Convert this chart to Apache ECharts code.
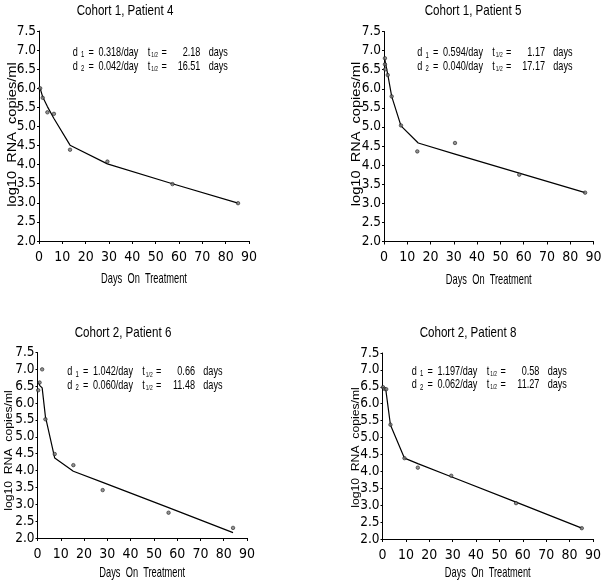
<!DOCTYPE html>
<html><head><meta charset="utf-8">
<script src="https://cdn.jsdelivr.net/npm/echarts@6/dist/echarts.min.js"></script>
<style>html,body{margin:0;padding:0;background:#fff}#c{width:608px;height:584px}</style>
</head><body><div id="c"></div><script>
// ---- data ----
const titles = ['Cohort 1, Patient 4', 'Cohort 1, Patient 5', 'Cohort 2, Patient 6', 'Cohort 2, Patient 8'];
const d1Vals = ['0.318', '0.594', '1.042', '1.197'];
const d2Vals = ['0.042', '0.040', '0.060', '0.062'];
const t1Vals = ['2.18', '1.17', '0.66', '0.58'];
const t2Vals = ['16.51', '17.17', '11.48', '11.27'];
const xTickLabels = ['0', '10', '20', '30', '40', '50', '60', '70', '80', '90'];
const yTickLabels = ['2.0', '2.5', '3.0', '3.5', '4.0', '4.5', '5.0', '5.5', '6.0', '6.5', '7.0', '7.5'];

const days4 = [0.5, 1.6, 3.6, 6.4, 13.3, 29.3, 57.2, 85.3];
const rna4 = [6.00, 5.75, 5.37, 5.33, 4.39, 4.08, 3.49, 2.99];
const fitDays4 = [0.4, 1.6, 3.6, 6.4, 13.3, 29.3, 57.2, 85.3];
const fit4 = [6.02, 5.77, 5.52, 5.21, 4.51, 4.02, 3.50, 2.99];

const days5 = [0.4, 0.4, 0.5, 1.6, 3.3, 7.3, 14.3, 30.5, 58.1, 86.4];
const rna5 = [6.80, 6.64, 6.51, 6.36, 5.80, 5.04, 4.36, 4.58, 3.75, 3.28];
const fitDays5 = [0.3, 1.6, 3.3, 7.3, 14.7, 30.5, 58.1, 86.4];
const fit5 = [6.78, 6.38, 5.80, 5.03, 4.58, 4.29, 3.79, 3.28];

const days6 = [0.3, 0.9, 2.0, 3.4, 7.4, 15.4, 28.0, 56.3, 84.0];
const rna6 = [6.38, 6.61, 7.00, 5.52, 4.49, 4.16, 3.42, 2.75, 2.30];
const fitDays6 = [0.3, 1.0, 2.0, 3.4, 7.4, 15.4, 28.0, 56.3, 84.0];
const fit6 = [6.62, 6.52, 6.45, 5.60, 4.37, 3.98, 3.65, 2.90, 2.16];

const days8 = [0.2, 0.8, 1.6, 3.4, 9.4, 15.1, 29.4, 57.1, 85.2];
const rna8 = [6.49, 6.44, 6.43, 5.38, 4.39, 4.11, 3.87, 3.06, 2.32];
const fitDays8 = [0.2, 1.4, 3.4, 9.4, 15.1, 29.4, 57.1, 85.2];
const fit8 = [6.48, 6.42, 5.37, 4.39, 4.23, 3.84, 3.09, 2.32];

// ---- layout ----
const COND = "'DejaVu Sans Condensed', 'Liberation Sans', sans-serif";
const REG = "'Liberation Sans', Arial, sans-serif";
const panels = [
  {days: days4, rna: rna4, fd: fitDays4, fv: fit4, grid: {left: 39, top: 31, width: 210, height: 210},
   titleX: 125, titleY: 11, dx: 72.7, ly: [52, 66], yNameX: 12, yNameY: 134.5, yNameSize: 14.6, xNameY: 279},
  {days: days5, rna: rna5, fd: fitDays5, fv: fit5, grid: {left: 384, top: 31.5, width: 209.5, height: 210},
   titleX: 473, titleY: 11, dx: 417.3, ly: [52.3, 66], yNameX: 356, yNameY: 134, yNameSize: 14.6, xNameY: 280},
  {days: days6, rna: rna6, fd: fitDays6, fv: fit6, grid: {left: 37.5, top: 352.5, width: 209.5, height: 185.5},
   titleX: 123, titleY: 333, dx: 67.3, ly: [371.7, 385], yNameX: 9, yNameY: 450.5, yNameSize: 12.2, xNameY: 573},
  {days: days8, rna: rna8, fd: fitDays8, fv: fit8, grid: {left: 382.5, top: 353, width: 210.5, height: 186},
   titleX: 468, titleY: 333, dx: 411.7, ly: [371, 384.3], yNameX: 355.5, yNameY: 447.5, yNameSize: 12.2, xNameY: 573}
];

function txt(x, y, text, size, opts) {
  opts = opts || {};
  return {
    type: 'text', x: x, y: y, rotation: opts.rotation || 0, silent: true,
    scaleX: opts.sx || 1, scaleY: opts.sy || 1,
    style: {text: text, fontSize: size, fontFamily: opts.family || REG, fill: '#000',
            align: opts.align || 'left', verticalAlign: 'middle'}
  };
}

const grids = [], xAxes = [], yAxes = [], series = [], graphics = [];
panels.forEach(function (p, i) {
  grids.push(Object.assign({containLabel: false}, p.grid));
  xAxes.push({
    type: 'value', gridIndex: i, min: 0, max: 90, interval: 10,
    axisLine: {show: true, onZero: false, lineStyle: {color: '#000', width: 1}},
    axisTick: {show: true, length: 3, lineStyle: {color: '#000'}},
    splitLine: {show: false},
    axisLabel: {color: '#000', fontSize: 14, fontFamily: COND, margin: 9,
                formatter: function (v) { return xTickLabels[Math.round(v / 10)]; }}
  });
  yAxes.push({
    type: 'value', gridIndex: i, min: 2, max: 7.5, interval: 0.5,
    axisLine: {show: true, onZero: false, lineStyle: {color: '#000', width: 1}},
    axisTick: {show: true, length: 2, lineStyle: {color: '#000'}},
    splitLine: {show: false},
    axisLabel: {color: '#000', fontSize: 13.5, fontFamily: COND, margin: 3,
                formatter: function (v) { return yTickLabels[Math.round((v - 2) / 0.5)]; }}
  });
  series.push({
    type: 'line', xAxisIndex: i, yAxisIndex: i, showSymbol: false, silent: true,
    lineStyle: {color: '#000', width: 1.2}, z: 2,
    data: p.fd.map(function (d, k) { return [d, p.fv[k]]; })
  });
  series.push({
    type: 'scatter', xAxisIndex: i, yAxisIndex: i, symbol: 'circle', symbolSize: 3.5, silent: true,
    itemStyle: {color: '#777', borderColor: '#111', borderWidth: 0.7}, z: 3,
    data: p.days.map(function (d, k) { return [d, p.rna[k]]; })
  });
  // titles and axis names
  graphics.push(txt(p.titleX, p.titleY, titles[i], 14.5, {align: 'center', sx: 0.8}));
  graphics.push(txt(p.grid.left + p.grid.width / 2, p.xNameY, 'Days  On  Treatment', 14.5, {align: 'center', sx: 0.64}));
  graphics.push(txt(p.yNameX, p.yNameY, 'log10  RNA  copies/ml', p.yNameSize, {align: 'center', rotation: Math.PI / 2, sy: 0.9}));
  // annotation lines
  const rows = [['1', d1Vals[i], t1Vals[i]], ['2', d2Vals[i], t2Vals[i]]];
  rows.forEach(function (r, j) {
    const y = p.ly[j], dx = p.dx, s = 0.7, fs = 13;
    graphics.push(txt(dx, y, 'd', fs, {sx: s}));
    graphics.push(txt(dx + 8.3, y + 3, r[0], 8.5, {sx: s}));
    graphics.push(txt(dx + 15.7, y, '=', fs, {sx: s}));
    graphics.push(txt(dx + 25.7, y, r[1] + '/day', fs, {sx: s}));
    graphics.push(txt(dx + 75, y, 't', fs, {sx: s}));
    graphics.push(txt(dx + 78.5, y + 3, '1/2', 7, {sx: s}));
    graphics.push(txt(dx + 88.7, y, '=', fs, {sx: s}));
    graphics.push(txt(dx + 127.7, y, r[2], fs, {align: 'right', sx: s}));
    graphics.push(txt(dx + 136, y, 'days', fs, {sx: s}));
  });
});

const chart = echarts.init(document.getElementById('c'), null, {renderer: 'canvas'});
chart.setOption({
  backgroundColor: '#fff',
  animation: false,
  grid: grids, xAxis: xAxes, yAxis: yAxes, series: series,
  graphic: {elements: graphics}
});
</script></body></html>
